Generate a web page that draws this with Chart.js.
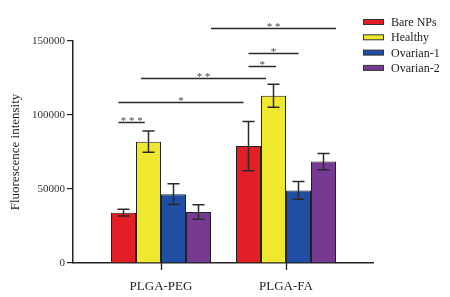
<!DOCTYPE html>
<html>
<head>
<meta charset="utf-8">
<script src="https://cdn.jsdelivr.net/npm/chart.js@4.4.0/dist/chart.umd.min.js"></script>
<style>
  html, body { margin: 0; padding: 0; background: #fff; }
  #wrap { width: 450px; height: 297px; }
</style>
</head>
<body>
<div id="wrap"><canvas id="fluoChart"></canvas></div>
<script>
// Data
const categories = ['PLGA-PEG', 'PLGA-FA'];
const seriesNames = ['Bare NPs', 'Healthy', 'Ovarian-1', 'Ovarian-2'];
const seriesColors = ['#e31e26', '#f0e82e', '#1f4ea2', '#763a92'];
const bareNPs = [34000, 79000];
const healthy = [82000, 113000];
const ovarian1 = [46500, 49000];
const ovarian2 = [34500, 68500];
const bareNPsErr = [2300, 16600];
const healthyErr = [7200, 7800];
const ovarian1Err = [7000, 6000];
const ovarian2Err = [4900, 5500];
const yTicks = [0, 50000, 100000, 150000];

// significance brackets: [from x, to x, y value, label] (x in category units)
const brackets = [
    [0.40, 1.40, 159000, '**'],
    [0.70, 1.10, 141700, '*'],
    [0.70, 0.92, 133100, '*'],
    [-0.16, 0.84, 124800, '**'],
    [-0.34, 0.66, 109000, '*'],
    [-0.34, -0.13, 95100, '***']
];

const values = [bareNPs, healthy, ovarian1, ovarian2];
const errors = [bareNPsErr, healthyErr, ovarian1Err, ovarian2Err];
const serif = '"Liberation Serif", "DejaVu Serif", serif';

const datasets = seriesNames.map((name, s) => ({
    label: name,
    data: values[s].map((v, i) => ({ x: i, y: v })),
    errs: errors[s],
    backgroundColor: seriesColors[s],
    borderColor: '#222',
    borderWidth: 1,
    barPercentage: 1,
    categoryPercentage: 0.8
}));

// Error bars drawn on top of the bars
const errorBarPlugin = {
    id: 'errorBars',
    afterDatasetsDraw(chart) {
        const ctx = chart.ctx;
        const yScale = chart.scales.y;
        ctx.save();
        ctx.strokeStyle = '#2a2a2a';
        ctx.lineWidth = 1.5;
        chart.data.datasets.forEach((ds, di) => {
            const meta = chart.getDatasetMeta(di);
            meta.data.forEach((bar, i) => {
                const v = ds.data[i].y;
                const e = ds.errs[i];
                const top = yScale.getPixelForValue(v + e);
                const bot = yScale.getPixelForValue(v - e);
                const cap = 6;
                ctx.beginPath();
                ctx.moveTo(bar.x, top);
                ctx.lineTo(bar.x, bot);
                ctx.moveTo(bar.x - cap, top);
                ctx.lineTo(bar.x + cap, top);
                ctx.moveTo(bar.x - cap, bot);
                ctx.lineTo(bar.x + cap, bot);
                ctx.stroke();
            });
        });
        ctx.restore();
    }
};

// Significance lines and stars above the bars, plus category tick marks
const bracketPlugin = {
    id: 'brackets',
    afterDraw(chart) {
        const ctx = chart.ctx;
        const xs = chart.scales.x;
        const ys = chart.scales.y;
        ctx.save();
        ctx.strokeStyle = '#2a2a2a';
        ctx.lineWidth = 1.5;
        ctx.fillStyle = '#444';
        ctx.font = '11px ' + serif;
        ctx.textAlign = 'center';
        ctx.textBaseline = 'alphabetic';
        brackets.forEach(b => {
            const x1 = xs.getPixelForValue(b[0]);
            const x2 = xs.getPixelForValue(b[1]);
            const y = Math.round(ys.getPixelForValue(b[2])) + 0.5;
            ctx.beginPath();
            ctx.moveTo(x1, y);
            ctx.lineTo(x2, y);
            ctx.stroke();
            ctx.fillText(b[3].split('').join(' '), (x1 + x2) / 2, y + 1);
        });
        // tick marks under each group
        ctx.strokeStyle = '#222';
        ctx.lineWidth = 1.3;
        categories.forEach((c, i) => {
            const x = Math.round(xs.getPixelForValue(i)) + 0.5;
            ctx.beginPath();
            ctx.moveTo(x, xs.top);
            ctx.lineTo(x, xs.top + 7);
            ctx.stroke();
        });
        ctx.restore();
    }
};

// Legend at top right
const legendPlugin = {
    id: 'sideLegend',
    afterDraw(chart) {
        const ctx = chart.ctx;
        ctx.save();
        ctx.font = '12px ' + serif;
        ctx.textBaseline = 'middle';
        ctx.textAlign = 'left';
        chart.data.datasets.forEach((ds, i) => {
            const y = 22 + i * 15.3;
            ctx.fillStyle = ds.backgroundColor;
            ctx.fillRect(363, y - 2.5, 21, 5);
            ctx.strokeStyle = '#333';
            ctx.lineWidth = 1;
            ctx.strokeRect(363.5, y - 2.5, 20, 5);
            ctx.fillStyle = '#222';
            ctx.fillText(ds.label, 391, y + 1);
        });
        ctx.restore();
    }
};

new Chart(document.getElementById('fluoChart'), {
    type: 'bar',
    data: { datasets: datasets },
    plugins: [errorBarPlugin, bracketPlugin, legendPlugin],
    options: {
        responsive: true,
        maintainAspectRatio: false,
        animation: false,
        layout: { padding: { top: 41, right: 77, left: 0, bottom: 0 } },
        plugins: {
            legend: { display: false },
            tooltip: { enabled: false }
        },
        scales: {
            x: {
                type: 'linear',
                min: -0.704,
                max: 1.696,
                offset: false,
                afterBuildTicks: function(scale) {
                    scale.ticks = categories.map((c, i) => ({ value: i }));
                },
                afterFit: function(scale) { scale.height = 34; },
                grid: { display: false, drawTicks: true, tickLength: 7 },
                border: { display: true, color: '#222', width: 1.5 },
                ticks: {
                    autoSkip: false,
                    maxRotation: 0,
                    padding: 9,
                    color: '#222',
                    font: { family: serif, size: 13 },
                    callback: function(v) { return categories[v] !== undefined ? categories[v] : ''; }
                }
            },
            y: {
                min: 0,
                max: 150000,
                afterBuildTicks: function(scale) {
                    scale.ticks = yTicks.map(v => ({ value: v }));
                },
                afterFit: function(scale) { scale.width = 73; },
                grid: { drawOnChartArea: false, drawTicks: true, tickLength: 6, color: '#222', lineWidth: 1.2 },
                border: { display: true, color: '#222', width: 1.5 },
                ticks: {
                    padding: 2,
                    color: '#333',
                    font: { family: serif, size: 11 },
                    callback: function(v) { return String(v); }
                },
                title: {
                    display: true,
                    text: 'Fluorescence intensity',
                    color: '#222',
                    padding: { top: 8, bottom: 0 },
                    font: { family: serif, size: 13 }
                }
            }
        }
    }
});
</script>
</body>
</html>
